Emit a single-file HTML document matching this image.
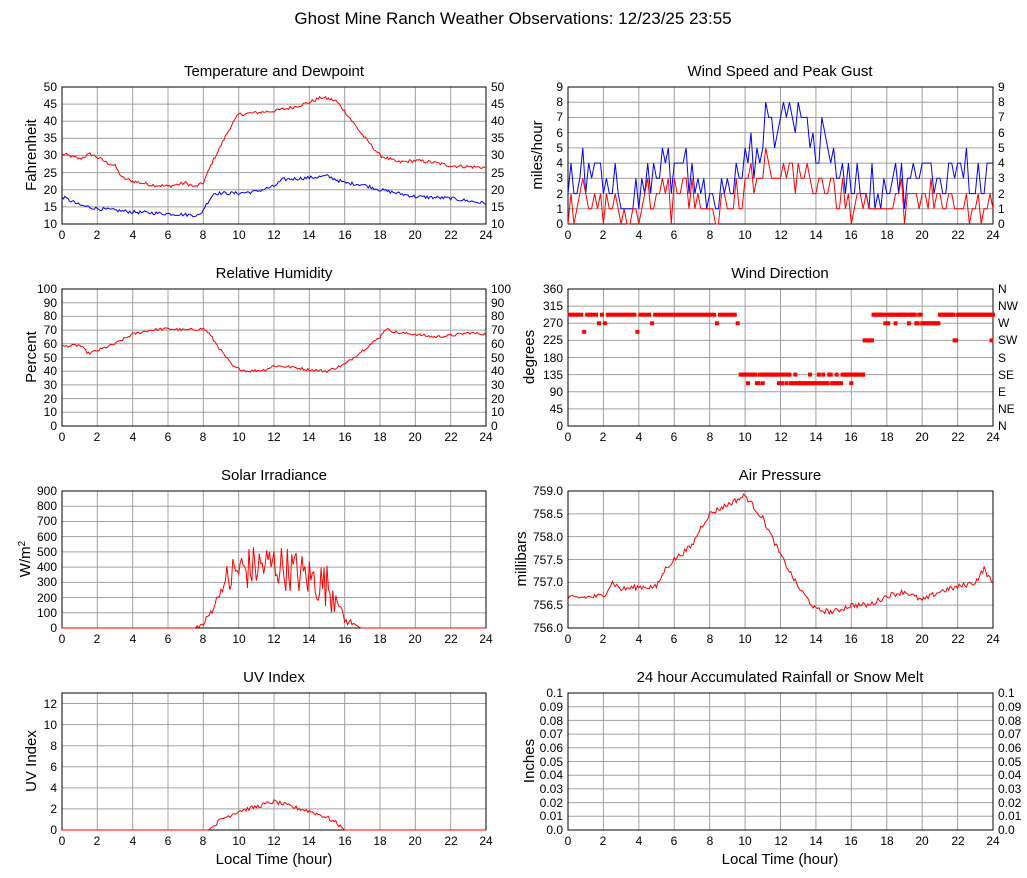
<!DOCTYPE html>
<html><head><meta charset="utf-8"><style>
body{margin:0;background:#fff}
svg{display:block;font-family:"Liberation Sans",sans-serif}
text{fill:#000}
.t{font-size:12px}
.h{font-size:15px;text-anchor:middle}
.e{text-anchor:end}
.m{text-anchor:middle}
</style></head><body>
<svg id="s" width="1027" height="878" viewBox="0 0 1027 878" xmlns="http://www.w3.org/2000/svg">
<rect width="1027" height="878" fill="#fff"/>
<g id="grid"></g>
<g id="data"></g>
<text x="513" y="24" class="h" style="font-size:17px">Ghost Mine Ranch Weather Observations: 12/23/25 23:55</text>
<text x="274" y="76" class="h">Temperature and Dewpoint</text>
<text x="780" y="76" class="h">Wind Speed and Peak Gust</text>
<text x="274" y="278" class="h">Relative Humidity</text>
<text x="780" y="278" class="h">Wind Direction</text>
<text x="274" y="480" class="h">Solar Irradiance</text>
<text x="780" y="480" class="h">Air Pressure</text>
<text x="274" y="682" class="h">UV Index</text>
<text x="780" y="682" class="h">24 hour Accumulated Rainfall or Snow Melt</text>
<text x="274" y="864" class="h">Local Time (hour)</text>
<text x="780" y="864" class="h">Local Time (hour)</text>
<text class="h" transform="translate(36,155) rotate(-90)">Fahrenheit</text>
<text class="h" transform="translate(542,155) rotate(-90)">miles/hour</text>
<text class="h" transform="translate(36,357) rotate(-90)">Percent</text>
<text class="h" transform="translate(534,357) rotate(-90)">degrees</text>
<text class="h" transform="translate(30,559) rotate(-90)">W/m<tspan dy="-5" style="font-size:10px">2</tspan></text>
<text class="h" transform="translate(526,559) rotate(-90)">millibars</text>
<text class="h" transform="translate(36,761) rotate(-90)">UV Index</text>
<text class="h" transform="translate(534,761) rotate(-90)">Inches</text>
<g class="t e">
<text x="57" y="91">50</text><text x="57" y="108">45</text><text x="57" y="125">40</text><text x="57" y="142">35</text><text x="57" y="159">30</text><text x="57" y="177">25</text><text x="57" y="194">20</text><text x="57" y="211">15</text><text x="57" y="228">10</text>
<text x="57" y="293">100</text><text x="57" y="307">90</text><text x="57" y="320">80</text><text x="57" y="334">70</text><text x="57" y="348">60</text><text x="57" y="362">50</text><text x="57" y="375">40</text><text x="57" y="389">30</text><text x="57" y="403">20</text><text x="57" y="416">10</text><text x="57" y="430">0</text>
<text x="57" y="495">900</text><text x="57" y="510">800</text><text x="57" y="525">700</text><text x="57" y="541">600</text><text x="57" y="556">500</text><text x="57" y="571">400</text><text x="57" y="586">300</text><text x="57" y="602">200</text><text x="57" y="617">100</text><text x="57" y="632">0</text>
<text x="57" y="708">12</text><text x="57" y="729">10</text><text x="57" y="750">8</text><text x="57" y="771">6</text><text x="57" y="792">4</text><text x="57" y="813">2</text><text x="57" y="834">0</text>
<text x="563" y="91">9</text><text x="563" y="106">8</text><text x="563" y="121">7</text><text x="563" y="137">6</text><text x="563" y="152">5</text><text x="563" y="167">4</text><text x="563" y="182">3</text><text x="563" y="198">2</text><text x="563" y="213">1</text><text x="563" y="228">0</text>
<text x="563" y="293">360</text><text x="563" y="310">315</text><text x="563" y="327">270</text><text x="563" y="344">225</text><text x="563" y="362">180</text><text x="563" y="379">135</text><text x="563" y="396">90</text><text x="563" y="413">45</text><text x="563" y="430">0</text>
<text x="563" y="495">759.0</text><text x="563" y="518">758.5</text><text x="563" y="541">758.0</text><text x="563" y="564">757.5</text><text x="563" y="586">757.0</text><text x="563" y="609">756.5</text><text x="563" y="632">756.0</text>
<text x="563" y="697">0.1</text><text x="563" y="711">0.09</text><text x="563" y="725">0.08</text><text x="563" y="738">0.07</text><text x="563" y="752">0.06</text><text x="563" y="766">0.05</text><text x="563" y="779">0.04</text><text x="563" y="793">0.03</text><text x="563" y="807">0.02</text><text x="563" y="820">0.01</text><text x="563" y="834">0.0</text>
</g>
<g class="t">
<text x="491" y="91">50</text><text x="491" y="108">45</text><text x="491" y="125">40</text><text x="491" y="142">35</text><text x="491" y="159">30</text><text x="491" y="177">25</text><text x="491" y="194">20</text><text x="491" y="211">15</text><text x="491" y="228">10</text>
<text x="491" y="293">100</text><text x="491" y="307">90</text><text x="491" y="320">80</text><text x="491" y="334">70</text><text x="491" y="348">60</text><text x="491" y="362">50</text><text x="491" y="375">40</text><text x="491" y="389">30</text><text x="491" y="403">20</text><text x="491" y="416">10</text><text x="491" y="430">0</text>
<text x="998" y="91">9</text><text x="998" y="106">8</text><text x="998" y="121">7</text><text x="998" y="137">6</text><text x="998" y="152">5</text><text x="998" y="167">4</text><text x="998" y="182">3</text><text x="998" y="198">2</text><text x="998" y="213">1</text><text x="998" y="228">0</text>
<text x="998" y="293">N</text><text x="998" y="310">NW</text><text x="998" y="327">W</text><text x="998" y="344">SW</text><text x="998" y="362">S</text><text x="998" y="379">SE</text><text x="998" y="396">E</text><text x="998" y="413">NE</text><text x="998" y="430">N</text>
<text x="998" y="697">0.1</text><text x="998" y="711">0.09</text><text x="998" y="725">0.08</text><text x="998" y="738">0.07</text><text x="998" y="752">0.06</text><text x="998" y="766">0.05</text><text x="998" y="779">0.04</text><text x="998" y="793">0.03</text><text x="998" y="807">0.02</text><text x="998" y="820">0.01</text><text x="998" y="834">0.0</text>
</g>
<g class="t m">
<g transform="translate(0,0)"><text x="62" y="239">0</text><text x="97" y="239">2</text><text x="133" y="239">4</text><text x="168" y="239">6</text><text x="203" y="239">8</text><text x="239" y="239">10</text><text x="274" y="239">12</text><text x="309" y="239">14</text><text x="345" y="239">16</text><text x="380" y="239">18</text><text x="415" y="239">20</text><text x="451" y="239">22</text><text x="486" y="239">24</text></g>
<g transform="translate(0,202)"><text x="62" y="239">0</text><text x="97" y="239">2</text><text x="133" y="239">4</text><text x="168" y="239">6</text><text x="203" y="239">8</text><text x="239" y="239">10</text><text x="274" y="239">12</text><text x="309" y="239">14</text><text x="345" y="239">16</text><text x="380" y="239">18</text><text x="415" y="239">20</text><text x="451" y="239">22</text><text x="486" y="239">24</text></g>
<g transform="translate(0,404)"><text x="62" y="239">0</text><text x="97" y="239">2</text><text x="133" y="239">4</text><text x="168" y="239">6</text><text x="203" y="239">8</text><text x="239" y="239">10</text><text x="274" y="239">12</text><text x="309" y="239">14</text><text x="345" y="239">16</text><text x="380" y="239">18</text><text x="415" y="239">20</text><text x="451" y="239">22</text><text x="486" y="239">24</text></g>
<g transform="translate(0,606)"><text x="62" y="239">0</text><text x="97" y="239">2</text><text x="133" y="239">4</text><text x="168" y="239">6</text><text x="203" y="239">8</text><text x="239" y="239">10</text><text x="274" y="239">12</text><text x="309" y="239">14</text><text x="345" y="239">16</text><text x="380" y="239">18</text><text x="415" y="239">20</text><text x="451" y="239">22</text><text x="486" y="239">24</text></g>
<g transform="translate(0,0)"><text x="568" y="239">0</text><text x="603" y="239">2</text><text x="639" y="239">4</text><text x="674" y="239">6</text><text x="710" y="239">8</text><text x="745" y="239">10</text><text x="781" y="239">12</text><text x="816" y="239">14</text><text x="851" y="239">16</text><text x="887" y="239">18</text><text x="922" y="239">20</text><text x="958" y="239">22</text><text x="993" y="239">24</text></g>
<g transform="translate(0,202)"><text x="568" y="239">0</text><text x="603" y="239">2</text><text x="639" y="239">4</text><text x="674" y="239">6</text><text x="710" y="239">8</text><text x="745" y="239">10</text><text x="781" y="239">12</text><text x="816" y="239">14</text><text x="851" y="239">16</text><text x="887" y="239">18</text><text x="922" y="239">20</text><text x="958" y="239">22</text><text x="993" y="239">24</text></g>
<g transform="translate(0,404)"><text x="568" y="239">0</text><text x="603" y="239">2</text><text x="639" y="239">4</text><text x="674" y="239">6</text><text x="710" y="239">8</text><text x="745" y="239">10</text><text x="781" y="239">12</text><text x="816" y="239">14</text><text x="851" y="239">16</text><text x="887" y="239">18</text><text x="922" y="239">20</text><text x="958" y="239">22</text><text x="993" y="239">24</text></g>
<g transform="translate(0,606)"><text x="568" y="239">0</text><text x="603" y="239">2</text><text x="639" y="239">4</text><text x="674" y="239">6</text><text x="710" y="239">8</text><text x="745" y="239">10</text><text x="781" y="239">12</text><text x="816" y="239">14</text><text x="851" y="239">16</text><text x="887" y="239">18</text><text x="922" y="239">20</text><text x="958" y="239">22</text><text x="993" y="239">24</text></g>
</g>
</svg>
<script>
var NS="http://www.w3.org/2000/svg",G=document.getElementById("grid"),D=document.getElementById("data");
var seed=12345;function rnd(){seed=(seed*1103515245+12345)%2147483648;return seed/2147483648;}
function el(p,t,a){var e=document.createElementNS(NS,t);for(var k in a)e.setAttribute(k,a[k]);p.appendChild(e);return e;}
var H=137;
function box(x0,x1,top,ys){
 for(var h=2;h<24;h+=2){var x=x0+(x1-x0)*h/24;el(G,"line",{x1:x,x2:x,y1:top,y2:top+H,stroke:"#a0a0a0","stroke-width":1});}
 ys.forEach(function(f){var y=top+H*f;el(G,"line",{x1:x0,x2:x1,y1:y,y2:y,stroke:"#a0a0a0","stroke-width":1});});
 el(G,"rect",{x:x0,y:top,width:x1-x0,height:H,fill:"none",stroke:"#000","stroke-width":1});
}
function fr(n){var a=[];for(var i=1;i<n;i++)a.push(i/n);return a;}
box(62,486,87,fr(8));box(568,993,87,fr(9));
box(62,486,289,fr(10));box(568,993,289,fr(8));
box(62,486,491,fr(9));box(568,993,491,fr(6));
box(62,486,693,[1/13,3/13,5/13,7/13,9/13,11/13]);box(568,993,693,fr(10));
function interp(k,t){for(var i=0;i<k.length-1;i++){if(t<=k[i+1][0]){var a=k[i],b=k[i+1];return a[1]+(b[1]-a[1])*(t-a[0])/(b[0]-a[0]);}}return k[k.length-1][1];}
function series(k,noise,N){var out=[];for(var i=0;i<=N;i++){var t=24*i/N;out.push([t,interp(k,t)+(rnd()*2-1)*(typeof noise=="function"?noise(t):noise)]);}return out;}
function line(pts,x0,x1,top,vmin,vmax,col){var s="";pts.forEach(function(p){var v=Math.max(vmin,Math.min(vmax,p[1]));s+=(x0+(x1-x0)*p[0]/24).toFixed(1)+","+(top+H-H*(v-vmin)/(vmax-vmin)).toFixed(1)+" ";});el(D,"polyline",{points:s,fill:"none",stroke:col,"stroke-width":1});}
var temp=[[0,30.5],[1,29],[1.6,30.5],[2,29.5],[2.5,28],[3,27],[3.4,23.5],[4,22.5],[5,21.5],[6,21],[7,22],[7.5,20.8],[8,22],[8.5,28],[9,33],[9.5,38],[10,42],[11,42.5],[12,43],[13,44],[14,45.5],[14.7,47],[15.5,46],[16,43],[17,36],[18,30],[19,28],[20,28.5],[21,28],[22,27],[24,26.5]];
line(series(temp,0.5,288),62,486,87,10,50,"#f00");
var dew=[[0,18],[1,15.5],[2,14.5],[3,14],[4,13.5],[6,13],[7.8,12.5],[8.2,16],[8.6,19],[10,19],[11,19.5],[12,21],[12.5,23],[14,23.5],[15,24],[16,22],[17,21.5],[18,20],[19,19],[20,18],[22,17.5],[24,16]];
line(series(dew,0.5,288),62,486,87,10,50,"#00f");
var rh=[[0,58],[1,59],[1.5,53],[2,55],[3,60],[4,67],[5,70],[6,71],[7,70],[8,71],[8.3,68],[9,55],[9.7,43],[10.5,40],[11.5,41],[12,44],[13,43],[14,41],[15,40],[16,45],[17,55],[18,65],[18.3,71],[19,68],[20,67],[21,65],[22,66],[23,68],[24,67]];
line(series(rh,1,288),62,486,289,0,100,"#f00");
var sol=[[0,0],[7.5,0],[8,20],[8.5,120],[9,250],[9.5,330],[10,380],[11,400],[12,420],[13,380],[14,330],[15,280],[15.5,220],[16,50],[16.5,30],[16.9,0],[24,0]];
line(series(sol,function(t){return t>9.3&&t<15.5?150:(t>7.6&&t<16.5?25:0);},288),62,486,491,0,900,"#f00");
var uv=[[0,0],[8.3,0],[9,1],[10,1.8],[11,2.2],[12,2.7],[13,2.2],[14,1.8],[15,1.2],[15.5,0.7],[16,0],[24,0]];
line(series(uv,function(t){return t>8.5&&t<15.8?0.2:0;},288),62,486,693,0,13,"#f00");
var pr=[[0,756.65],[2,756.7],[2.5,757],[3,756.85],[4,756.9],[5,756.9],[5.5,757.3],[6,757.5],[7,757.8],[7.5,758.2],[8,758.5],[9,758.7],[10,758.9],[11,758.4],[12,757.6],[13,756.9],[14,756.4],[15,756.35],[16,756.5],[17,756.5],[18,756.7],[19,756.8],[20,756.6],[21,756.8],[22,756.9],[23,757],[23.5,757.3],[24,756.95]];
line(series(pr,0.06,288),568,993,491,756,759,"#f00");
var wp=[[0,2.5],[1.5,4],[3,2],[5,3],[6.5,4],[8,1.5],[9,2],[10,4],[11,6],[12,7],[13,7],[14,5.5],[15,4],[16,3],[17,2.5],[20,3],[22,3.5],[24,3]];
var g=[],sp=[];for(var i=0;i<=144;i++){var t=24*i/144;var v=Math.round(interp(wp,t)+(rnd()*2-1)*1.6);v=Math.max(0,Math.min(9,v));g.push([t,v]);var s=Math.round(v*0.5+(rnd()*2-1)*1.0);s=Math.max(0,Math.min(5,Math.min(s,v)));sp.push([t,s]);}
line(g,568,993,87,0,9,"#00f");line(sp,568,993,87,0,9,"#f00");
for(var i=0;i<=288;i++){var t=24*i/288,r=rnd(),d;
 if(t<9.7){d=r<0.08?270:(r<0.12?247.5:292.5);}
 else if(t<16.7){d=(t>12.5&&t<15.5)?(r<0.2?135:112.5):(r<0.15?112.5:135);}
 else if(t<17.2){d=225;}
 else if(t<20){d=r<0.08?270:292.5;}
 else if(t<21){d=270;}
 else {d=r<0.1?225:292.5;}
 if(i%2==0&&t<9.7)continue;
 el(D,"rect",{x:(568+425*t/24-2).toFixed(1),y:(289+H-H*d/360-2).toFixed(1),width:4,height:4,fill:"#f00"});}
</script>
</body></html>
